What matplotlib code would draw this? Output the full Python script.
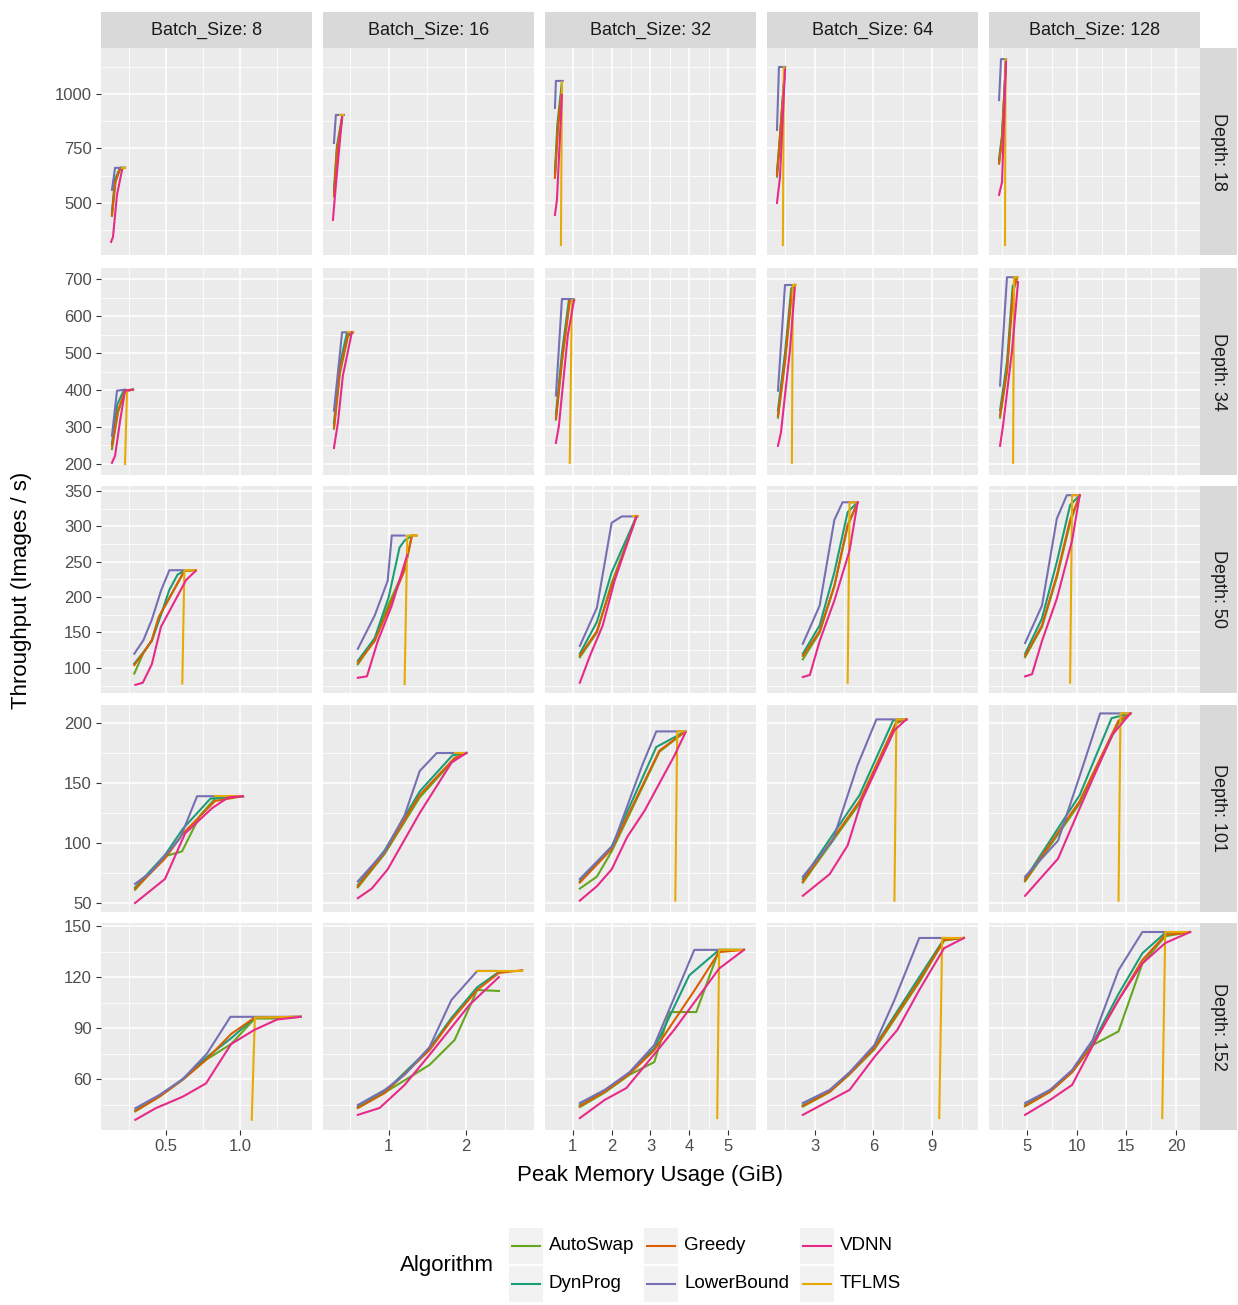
import matplotlib
matplotlib.use("Agg")
import matplotlib.pyplot as plt
from matplotlib.ticker import FixedLocator, NullFormatter

plt.rcParams['font.family'] = ['Liberation Sans', 'DejaVu Sans']

batch_sizes = [8, 16, 32, 64, 128]
depths = [18, 34, 50, 101, 152]
algorithms = ["AutoSwap", "DynProg", "Greedy", "LowerBound", "TFLMS", "VDNN"]
colors = {"AutoSwap": "#66A61E", "DynProg": "#1B9E77", "Greedy": "#D95F02",
          "LowerBound": "#7570B3", "TFLMS": "#E6AB02", "VDNN": "#E7298A"}

# data per depth -> batch -> algorithm -> (memory GiB, throughput)
D18 = {
 8: {"LowerBound": ([0.135, 0.156, 0.21], [560, 661, 661]),
     "Greedy": ([0.135, 0.156, 0.19, 0.223], [445, 592, 661, 661]),
     "DynProg": ([0.135, 0.156, 0.19, 0.223], [460, 610, 661, 661]),
     "AutoSwap": ([0.135, 0.16, 0.19, 0.223], [440, 600, 655, 661]),
     "VDNN": ([0.129, 0.142, 0.169, 0.203], [321, 344, 537, 651]),
     "TFLMS": ([0.203, 0.223], [661, 661])},
 16: {"LowerBound": ([0.295, 0.32, 0.423], [775, 904, 904]),
      "Greedy": ([0.295, 0.333, 0.4], [537, 743, 890]),
      "DynProg": ([0.295, 0.333, 0.4], [560, 760, 895]),
      "AutoSwap": ([0.295, 0.34, 0.4], [530, 730, 885]),
      "VDNN": ([0.282, 0.32, 0.4], [422, 583, 895]),
      "TFLMS": ([0.372, 0.41], [904, 904])},
 32: {"LowerBound": ([0.538, 0.564, 0.74], [936, 1060, 1060]),
      "Greedy": ([0.538, 0.615, 0.718], [615, 858, 1028]),
      "DynProg": ([0.538, 0.6, 0.718], [640, 858, 1055]),
      "AutoSwap": ([0.538, 0.62, 0.718], [620, 850, 1040]),
      "VDNN": ([0.538, 0.59, 0.718], [445, 514, 995]),
      "TFLMS": ([0.692, 0.718], [307, 1055])},
 64: {"LowerBound": ([1.07, 1.17, 1.48], [835, 1124, 1124]),
      "Greedy": ([1.07, 1.17, 1.48], [628, 743, 1119]),
      "DynProg": ([1.07, 1.2, 1.48], [640, 780, 1124]),
      "AutoSwap": ([1.07, 1.2, 1.48], [620, 760, 1115]),
      "VDNN": ([1.07, 1.22, 1.48], [500, 615, 1110]),
      "TFLMS": ([1.37, 1.42], [307, 1124])},
 128: {"LowerBound": ([2.18, 2.38, 2.88], [972, 1160, 1160]),
       "Greedy": ([2.18, 2.48, 2.88], [684, 789, 1156]),
       "DynProg": ([2.18, 2.48, 2.88], [700, 810, 1160]),
       "AutoSwap": ([2.18, 2.48, 2.88], [680, 800, 1150]),
       "VDNN": ([2.18, 2.48, 2.88], [537, 596, 1147]),
       "TFLMS": ([2.78, 2.83], [307, 1160])},
}
D34 = {
 8: {"LowerBound": ([0.135, 0.169, 0.223], [276, 398, 401]),
     "Greedy": ([0.135, 0.176, 0.223, 0.277], [249, 344, 398, 401]),
     "DynProg": ([0.135, 0.17, 0.215, 0.277], [255, 360, 399, 401]),
     "AutoSwap": ([0.135, 0.176, 0.223, 0.277], [240, 340, 396, 401]),
     "VDNN": ([0.135, 0.156, 0.19, 0.223, 0.277], [203, 222, 317, 398, 401]),
     "TFLMS": ([0.223, 0.237, 0.277], [200, 398, 401])},
 16: {"LowerBound": ([0.295, 0.4, 0.526], [344, 556, 556]),
      "Greedy": ([0.295, 0.372, 0.475, 0.54], [298, 453, 548, 556]),
      "DynProg": ([0.295, 0.372, 0.46, 0.54], [310, 470, 552, 556]),
      "AutoSwap": ([0.295, 0.372, 0.475, 0.54], [295, 445, 545, 556]),
      "VDNN": ([0.295, 0.346, 0.41, 0.526], [243, 311, 439, 556]),
      "TFLMS": ([0.475, 0.54], [556, 556])},
 32: {"LowerBound": ([0.564, 0.718, 0.974], [385, 646, 646]),
      "Greedy": ([0.564, 0.718, 0.92, 1.03], [322, 480, 643, 643]),
      "DynProg": ([0.564, 0.718, 0.9, 1.03], [335, 500, 645, 645]),
      "AutoSwap": ([0.564, 0.718, 0.92, 1.03], [320, 475, 640, 643]),
      "VDNN": ([0.564, 0.64, 0.87, 1.03], [257, 303, 548, 643]),
      "TFLMS": ([0.92, 0.974, 1.03], [203, 643, 643])},
 64: {"LowerBound": ([1.12, 1.48, 1.98], [398, 684, 684]),
      "Greedy": ([1.12, 1.48, 1.83, 1.98], [330, 480, 670, 684]),
      "DynProg": ([1.12, 1.48, 1.8, 1.98], [345, 500, 675, 684]),
      "AutoSwap": ([1.12, 1.48, 1.83, 1.98], [325, 475, 665, 684]),
      "VDNN": ([1.12, 1.27, 1.73, 1.98], [249, 284, 507, 676]),
      "TFLMS": ([1.83, 1.88, 2.03], [203, 684, 684])},
 128: {"LowerBound": ([2.28, 2.98, 3.99], [412, 705, 705]),
       "Greedy": ([2.28, 2.98, 3.59, 3.99], [330, 453, 670, 703]),
       "DynProg": ([2.28, 2.98, 3.55, 3.99], [345, 475, 680, 705]),
       "AutoSwap": ([2.28, 2.98, 3.59, 3.99], [325, 450, 665, 703]),
       "VDNN": ([2.28, 2.58, 3.49, 4.09], [249, 303, 507, 692]),
       "TFLMS": ([3.59, 3.69, 4.05], [203, 705, 705])},
}
D50 = {
 8: {"LowerBound": ([0.286, 0.347, 0.404, 0.466, 0.523, 0.62], [120, 139, 168, 209, 238, 238]),
     "Greedy": ([0.286, 0.347, 0.404, 0.452, 0.624, 0.70], [104, 121, 139, 172, 237, 238]),
     "DynProg": ([0.286, 0.347, 0.404, 0.466, 0.522, 0.579, 0.624], [106, 122, 138, 175, 210, 232, 237]),
     "AutoSwap": ([0.286, 0.347, 0.404, 0.452, 0.624, 0.70], [92, 121, 139, 172, 237, 238]),
     "VDNN": ([0.293, 0.343, 0.404, 0.466, 0.538, 0.635, 0.70], [76, 79, 105, 158, 186, 224, 237]),
     "TFLMS": ([0.61, 0.624, 0.70], [78, 238, 238])},
 16: {"LowerBound": ([0.603, 0.82, 0.987, 1.04, 1.205], [127, 174, 223, 287, 287]),
      "Greedy": ([0.603, 0.82, 1.0, 1.205, 1.30, 1.36], [107, 138, 184, 238, 287, 287]),
      "DynProg": ([0.603, 0.82, 1.0, 1.14, 1.205, 1.30], [110, 142, 200, 270, 280, 287]),
      "AutoSwap": ([0.603, 0.82, 1.0, 1.205, 1.30], [105, 140, 190, 240, 287]),
      "VDNN": ([0.603, 0.72, 0.86, 1.04, 1.24], [86, 88, 138, 188, 260]),
      "TFLMS": ([1.205, 1.24, 1.36], [77, 287, 287])},
 32: {"LowerBound": ([1.18, 1.62, 2.0, 2.26, 2.67], [131, 185, 305, 314, 314]),
      "Greedy": ([1.18, 1.62, 2.0, 2.64], [117, 152, 216, 314]),
      "DynProg": ([1.18, 1.62, 2.0, 2.64], [120, 165, 235, 314]),
      "AutoSwap": ([1.18, 1.62, 2.0, 2.64], [115, 150, 220, 314]),
      "VDNN": ([1.18, 1.44, 1.77, 2.08, 2.64], [79, 117, 160, 224, 314]),
      "TFLMS": ([2.55, 2.67], [314, 314])},
 64: {"LowerBound": ([2.39, 3.25, 4.0, 4.42, 5.19], [134, 188, 309, 334, 334]),
      "Greedy": ([2.39, 3.25, 4.0, 4.68, 5.19], [117, 152, 216, 302, 334]),
      "DynProg": ([2.39, 3.25, 4.0, 4.68, 5.19], [120, 160, 235, 320, 334]),
      "AutoSwap": ([2.39, 3.25, 4.0, 4.68, 5.19], [112, 150, 215, 300, 334]),
      "VDNN": ([2.39, 2.75, 3.25, 4.0, 4.78, 5.19], [87, 90, 138, 195, 266, 334]),
      "TFLMS": ([4.68, 4.78, 5.19], [79, 334, 334])},
 128: {"LowerBound": ([4.8, 6.5, 8.0, 9.0, 10.3], [135, 188, 311, 344, 344]),
       "Greedy": ([4.8, 6.5, 8.0, 9.33, 10.3], [117, 160, 231, 309, 344]),
       "DynProg": ([4.8, 6.5, 8.0, 9.33, 10.3], [120, 170, 250, 330, 344]),
       "AutoSwap": ([4.8, 6.5, 8.0, 9.33, 10.3], [115, 158, 228, 305, 344]),
       "VDNN": ([4.8, 5.5, 6.5, 8.0, 9.53, 10.3], [88, 91, 138, 198, 280, 344]),
       "TFLMS": ([9.33, 9.53, 10.3], [79, 344, 344])},
}
D101 = {
 8: {"LowerBound": ([0.291, 0.392, 0.595, 0.71, 1.02], [66, 75, 104, 139, 139]),
     "Greedy": ([0.291, 0.493, 0.615, 0.831, 1.02], [62, 87, 108, 135, 139]),
     "DynProg": ([0.291, 0.493, 0.615, 0.80, 1.02], [63, 90, 112, 137, 139]),
     "AutoSwap": ([0.291, 0.493, 0.608, 0.73, 0.831, 1.02], [61, 89, 93, 123, 137, 139]),
     "VDNN": ([0.291, 0.493, 0.629, 0.811, 0.92, 1.02], [50, 70, 108, 129, 138, 139]),
     "TFLMS": ([0.831, 1.02], [139, 139])},
 16: {"LowerBound": ([0.603, 0.949, 1.205, 1.40, 1.62, 2.0], [68, 93, 123, 160, 175, 175]),
      "Greedy": ([0.603, 0.949, 1.40, 1.85, 2.0], [64, 92, 140, 171, 175]),
      "DynProg": ([0.603, 0.949, 1.40, 1.82, 2.0], [65, 94, 143, 173, 175]),
      "AutoSwap": ([0.603, 0.949, 1.40, 1.85, 2.0], [63, 91, 138, 170, 175]),
      "VDNN": ([0.603, 0.782, 0.987, 1.40, 1.81, 2.0], [54, 62, 78, 125, 167, 175]),
      "TFLMS": ([1.85, 2.0], [175, 175])},
 32: {"LowerBound": ([1.18, 2.03, 2.79, 3.15, 3.90], [70, 98, 165, 193, 193]),
      "Greedy": ([1.18, 2.0, 3.23, 3.90], [67, 95, 177, 193]),
      "DynProg": ([1.18, 2.0, 3.15, 3.90], [68, 97, 180, 193]),
      "AutoSwap": ([1.18, 1.62, 2.0, 3.23, 3.90], [62, 72, 93, 176, 193]),
      "VDNN": ([1.18, 1.62, 2.0, 2.4, 2.85, 3.62, 3.90], [52, 64, 78, 105, 127, 173, 192]),
      "TFLMS": ([3.64, 3.69, 3.90], [52, 193, 193])},
 64: {"LowerBound": ([2.39, 3.92, 5.19, 6.15, 7.68], [72, 102, 165, 203, 203]),
      "Greedy": ([2.39, 5.29, 7.17, 7.68], [68, 135, 201, 203]),
      "DynProg": ([2.39, 5.29, 7.0, 7.68], [70, 140, 202, 203]),
      "AutoSwap": ([2.39, 5.29, 7.17, 7.68], [67, 133, 200, 203]),
      "VDNN": ([2.39, 3.76, 4.68, 5.39, 7.07, 7.68], [56, 74, 98, 135, 194, 203]),
      "TFLMS": ([7.07, 7.17, 7.68], [52, 203, 203])},
 128: {"LowerBound": ([4.8, 8.12, 10.3, 12.35, 15.4], [72, 102, 156, 208, 208]),
       "Greedy": ([4.8, 10.3, 14.2, 15.4], [69, 135, 202, 208]),
       "DynProg": ([4.8, 10.3, 13.5, 15.4], [70, 140, 204, 208]),
       "AutoSwap": ([4.8, 10.3, 14.2, 15.4], [68, 133, 200, 208]),
       "VDNN": ([4.8, 8.12, 10.3, 13.56, 15.4], [56, 87, 129, 190, 208]),
       "TFLMS": ([14.2, 14.4, 15.4], [52, 208, 208])},
}
D152 = {
 8: {"LowerBound": ([0.293, 0.455, 0.613, 0.777, 0.935, 1.41], [42.8, 50.6, 59.9, 75, 96.6, 96.6]),
     "Greedy": ([0.293, 0.455, 0.613, 0.77, 0.94, 1.10, 1.41], [41.2, 49.6, 59.6, 71.3, 86.5, 96.2, 96.6]),
     "DynProg": ([0.293, 0.455, 0.613, 0.77, 0.94, 1.10, 1.41], [41.5, 50, 60, 72.5, 84, 96.2, 96.6]),
     "AutoSwap": ([0.293, 0.455, 0.613, 0.77, 0.94, 1.10, 1.25, 1.41], [41, 49.6, 59.6, 71.3, 80.6, 95.6, 95.6, 96.6]),
     "VDNN": ([0.293, 0.43, 0.613, 0.77, 0.94, 1.097, 1.25, 1.41], [36, 42.8, 49.6, 57.4, 80.6, 88.9, 95, 96.6]),
     "TFLMS": ([1.079, 1.10, 1.41], [36, 96.2, 96.6])},
 16: {"LowerBound": ([0.603, 0.949, 1.205, 1.526, 1.808, 2.141, 2.38], [44.7, 53.6, 62.4, 78.8, 106.5, 123.6, 123.6]),
      "Greedy": ([0.603, 0.949, 1.526, 1.81, 2.14, 2.42, 2.72], [43, 51.8, 77, 94.7, 112.4, 122.4, 124]),
      "DynProg": ([0.603, 0.949, 1.526, 1.81, 2.14, 2.42], [43.5, 52.5, 78, 96, 114, 123]),
      "AutoSwap": ([0.603, 0.949, 1.526, 1.85, 2.14, 2.42], [43, 52, 68.3, 83, 112.4, 111.8]),
      "VDNN": ([0.603, 0.885, 1.205, 1.526, 2.04, 2.42], [38.9, 43, 56.5, 74.2, 103.6, 120]),
      "TFLMS": ([2.14, 2.72], [123.5, 123.5])},
 32: {"LowerBound": ([1.18, 1.82, 2.46, 3.10, 4.13, 4.77], [45.9, 53.6, 64, 80, 136, 136]),
      "Greedy": ([1.18, 1.82, 2.46, 3.10, 4.13, 4.77, 5.41], [44.1, 52.5, 63, 77, 112, 134.7, 136]),
      "DynProg": ([1.18, 1.82, 2.46, 3.10, 4.0, 4.77, 5.41], [44.5, 53, 63.5, 78, 121, 136, 136]),
      "AutoSwap": ([1.18, 1.82, 2.46, 3.10, 3.49, 4.18, 4.77, 5.41], [43.5, 52, 62.5, 70, 99.4, 99.4, 136, 136]),
      "VDNN": ([1.18, 1.82, 2.38, 2.97, 3.61, 4.77, 5.41], [37, 47.7, 54.7, 71, 88.9, 125, 136]),
      "TFLMS": ([4.72, 4.77, 5.41], [37, 136, 136])},
 64: {"LowerBound": ([2.39, 3.76, 4.78, 6.05, 7.07, 8.34, 9.61], [45.9, 53.6, 64, 80, 106.5, 143, 143]),
      "Greedy": ([2.39, 3.76, 4.78, 6.05, 8.34, 9.61, 10.6], [44.1, 52.5, 63, 78.3, 118, 141.8, 143]),
      "DynProg": ([2.39, 3.76, 4.78, 6.05, 8.34, 9.61, 10.6], [44.5, 53, 63.5, 79, 120, 142.5, 143]),
      "AutoSwap": ([2.39, 3.76, 4.78, 6.05, 8.34, 9.61, 10.6], [43.8, 52.3, 62.8, 77.5, 117, 141.5, 143]),
      "VDNN": ([2.39, 4.78, 6.05, 7.22, 8.34, 9.61, 10.63], [38.9, 53.6, 73, 88.9, 112.4, 137, 143]),
      "TFLMS": ([9.36, 9.51, 10.6], [37, 143, 143])},
 128: {"LowerBound": ([4.8, 7.31, 9.53, 11.6, 14.2, 16.6, 19.2], [45.9, 53.6, 65.3, 83, 124, 146.5, 146.5]),
       "Greedy": ([4.8, 7.31, 9.53, 11.6, 14.2, 16.6, 18.9, 21.4], [44.1, 52.5, 64, 80, 106.5, 130, 144.7, 146.5]),
       "DynProg": ([4.8, 7.31, 9.53, 11.6, 14.2, 16.6, 18.9, 21.4], [44.5, 53, 64.5, 81, 110, 134, 146, 146.5]),
       "AutoSwap": ([4.8, 7.31, 9.53, 11.6, 14.2, 16.6, 18.9, 21.4], [44, 52.5, 64, 80, 88, 128, 144, 146.5]),
       "VDNN": ([4.8, 7.31, 9.53, 11.8, 14.2, 16.6, 18.9, 21.4], [38.9, 47.7, 56.5, 81.8, 106.5, 128, 140, 146.5]),
       "TFLMS": ([18.6, 18.9, 21.4], [37, 146.5, 146.5])},
}
data = {18: D18, 34: D34, 50: D50, 101: D101, 152: D152}

xlims = [(0.061, 1.486), (0.154, 2.872), (0.282, 5.72), (0.56, 11.34), (1.17, 22.4)]
xticks = [[0.5, 1.0], [1, 2], [1, 2, 3, 4, 5], [3, 6, 9], [5, 10, 15, 20]]
xticklabels = [["0.5", "1.0"], ["1", "2"], ["1", "2", "3", "4", "5"], ["3", "6", "9"], ["5", "10", "15", "20"]]
xminor = [[0.25, 0.75, 1.25], [0.5, 1.5, 2.5], [1.5, 2.5, 3.5, 4.5], [1.5, 4.5, 7.5, 10.5], [2.5, 7.5, 12.5, 17.5, 22.5]]
ylims = [(261, 1211), (170, 730), (64.5, 357), (42.5, 215), (30, 151.8)]
yticks = [[500, 750, 1000], [200, 300, 400, 500, 600, 700], [100, 150, 200, 250, 300, 350], [50, 100, 150, 200], [60, 90, 120, 150]]
yminor = [[375, 625, 875, 1125], [250, 350, 450, 550, 650], [75, 125, 175, 225, 275, 325], [75, 125, 175], [45, 75, 105, 135]]

W, H = 1238, 1305
fig = plt.figure(figsize=(W / 100, H / 100), dpi=100)
col_x = [101, 323, 545, 767, 989]
row_y = [48, 268, 486, 705, 923]
pw, ph = 211, 207
draw_order = ["AutoSwap", "DynProg", "Greedy", "LowerBound", "TFLMS", "VDNN"]

for r, d in enumerate(depths):
    for c, b in enumerate(batch_sizes):
        ax = fig.add_axes([col_x[c] / W, 1 - (row_y[r] + ph) / H, pw / W, ph / H])
        ax.set_facecolor("#EBEBEB")
        for s in ax.spines.values():
            s.set_visible(False)
        ax.set_xlim(*xlims[c]); ax.set_ylim(*ylims[r])
        ax.xaxis.set_major_locator(FixedLocator(xticks[c]))
        ax.xaxis.set_minor_locator(FixedLocator(xminor[c]))
        ax.yaxis.set_major_locator(FixedLocator(yticks[r]))
        ax.yaxis.set_minor_locator(FixedLocator(yminor[r]))
        ax.grid(True, which="major", color="white", lw=1.1)
        ax.grid(True, which="minor", color="white", lw=0.55)
        ax.set_axisbelow(True)
        ax.tick_params(which="minor", length=0)
        ax.tick_params(which="major", length=3.5, color="#333333", labelsize=12, labelcolor="#4D4D4D", pad=3)
        if r == 4:
            ax.set_xticklabels(xticklabels[c])
        else:
            ax.xaxis.set_major_formatter(NullFormatter()); ax.tick_params(axis="x", length=0)
        if c != 0:
            ax.yaxis.set_major_formatter(NullFormatter()); ax.tick_params(axis="y", length=0)
        panel = data[d][b]
        for a in draw_order:
            if a in panel:
                xs, ys = panel[a]
                ax.plot(xs, ys, color=colors[a], lw=1.5, solid_joinstyle="round")
        if r == 0:
            sax = fig.add_axes([col_x[c] / W, 1 - 48 / H, pw / W, 36 / H])
            sax.set_facecolor("#D9D9D9"); sax.set_xticks([]); sax.set_yticks([])
            for s in sax.spines.values(): s.set_visible(False)
            sax.text(0.5, 0.5, f"Batch_Size: {b}", ha="center", va="center", fontsize=13, color="#1A1A1A", transform=sax.transAxes)
        if c == 4:
            sax = fig.add_axes([1200 / W, 1 - (row_y[r] + ph) / H, 37 / W, ph / H])
            sax.set_facecolor("#D9D9D9"); sax.set_xticks([]); sax.set_yticks([])
            for s in sax.spines.values(): s.set_visible(False)
            sax.text(0.5, 0.5, f"Depth: {d}", ha="center", va="center", rotation=-90, fontsize=13, color="#1A1A1A", transform=sax.transAxes)

fig.text(650 / W, 1 - 1176 / H, "Peak Memory Usage (GiB)", ha="center", va="center", fontsize=16)
fig.text(22 / W, 1 - 590 / H, "Throughput (Images / s)", ha="center", va="center", rotation=90, fontsize=16)

# legend
fig.text(447 / W, 1 - 1265 / H, "Algorithm", ha="center", va="center", fontsize=16)
legend_items = [("AutoSwap", 509, 1246), ("DynProg", 509, 1284), ("Greedy", 644, 1246),
                ("LowerBound", 644, 1284), ("VDNN", 800, 1246), ("TFLMS", 800, 1284)]
for name, lx, ly in legend_items:
    kax = fig.add_axes([lx / W, 1 - (ly + 18) / H, 34 / W, 36 / H])
    kax.set_facecolor("#F2F2F2"); kax.set_xticks([]); kax.set_yticks([])
    for s in kax.spines.values(): s.set_visible(False)
    kax.set_xlim(0, 1); kax.set_ylim(0, 1)
    kax.plot([0.1, 0.9], [0.5, 0.5], color=colors[name], lw=1.5)
    fig.text((lx + 40) / W, 1 - ly / H, name, ha="left", va="center", fontsize=13.5)

fig.savefig("out.png", dpi=100)
